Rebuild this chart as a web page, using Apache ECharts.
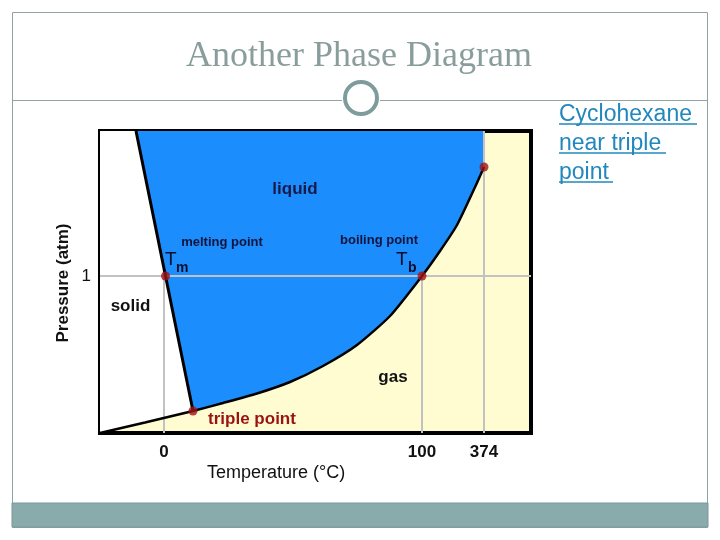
<!DOCTYPE html>
<html>
<head>
<meta charset="utf-8">
<script src="https://cdn.jsdelivr.net/npm/echarts@6/dist/echarts.min.js"></script>
<style>html,body{margin:0;padding:0;background:#fff}#c{width:720px;height:540px}</style>
</head>
<body>
<div id="c"></div>
<script>
// Schematic phase diagram (diagram units: x = temperature axis, y = pressure axis)
const xTickPos = [64, 322, 384];
const xTickLabels = ['0', '100', '374'];
const yTickPos = [157];
const yTickLabels = ['1'];

const triplePoint = [93, 22];
const meltingPoint = [65.5, 157];
const boilingPoint = [322, 157];
const criticalPoint = [384, 266];

const meltingCurve = [[93, 22], [65.5, 157], [36, 302]];
const sublimationCurve = [[0, 0], [45, 10.5], [93, 22]];
const vaporCurve = [[93, 22], [123, 30], [157, 39.5], [190, 51], [223, 67], [257, 88], [290, 117], [322, 157], [340, 182], [357, 208], [376, 248], [384, 266]];

const pressureLine = [[0, 157], [431, 157]];
const zeroLine = [[64, 0], [64, 157]];
const hundredLine = [[322, 0], [322, 157]];
const criticalLine = [[384, 0], [384, 302]];

const solidRegion = sublimationCurve.concat([[36, 302], [0, 302]]);
const liquidRegion = [[93, 22], [36, 302], [384, 302]].concat(vaporCurve.slice().reverse());

const chart = echarts.init(document.getElementById('c'), null, {renderer: 'canvas'});

function regionSeries(points, color) {
  return {
    type: 'custom', z: 1, silent: true, data: [[0, 0]],
    renderItem: function (params, api) {
      return {type: 'polygon', shape: {points: points.map(p => api.coord(p))}, style: {fill: color}};
    }
  };
}
function lineSeries(data, color, width, z, smooth) {
  return {type: 'line', data: data, symbol: 'none', z: z, silent: true, smooth: smooth || false,
    lineStyle: {color: color, width: width}};
}
const gridGray = '#c2c2c2';
const txt = (text, x, y, font, fill, align, valign, rot) => ({
  type: 'text', x: x, y: y, z: 100, rotation: rot || 0, silent: true,
  style: {text: text, font: font, fill: fill, textAlign: align || 'left', align: align || 'left',
    textVerticalAlign: valign || 'middle', verticalAlign: valign || 'middle'}
});
const linkColor = '#2187bd';

chart.setOption({
  animation: false,
  grid: {left: 100, top: 131, width: 431, height: 302, show: true, backgroundColor: '#fffcd2',
    borderColor: '#000', borderWidth: 4},
  xAxis: {type: 'value', min: 0, max: 431,
    axisLine: {show: false}, axisTick: {show: false}, splitLine: {show: false},
    axisLabel: {customValues: xTickPos, margin: 11, color: '#111', fontFamily: 'Liberation Sans, Arial',
      fontSize: 17, fontWeight: 'bold',
      formatter: v => xTickLabels[xTickPos.indexOf(v)] || ''}},
  yAxis: {type: 'value', min: 0, max: 302,
    axisLine: {show: false}, axisTick: {show: false}, splitLine: {show: false},
    axisLabel: {customValues: yTickPos, margin: 9, color: '#111', fontFamily: 'Liberation Sans, Arial',
      fontSize: 17, formatter: v => yTickLabels[yTickPos.indexOf(v)] || ''}},
  series: [
    regionSeries(solidRegion, '#ffffff'),
    regionSeries(liquidRegion, '#1b8dfc'),
    lineSeries(pressureLine, gridGray, 2, 2),
    lineSeries(zeroLine, gridGray, 2, 2),
    lineSeries(hundredLine, gridGray, 2, 2),
    lineSeries(criticalLine, gridGray, 2, 2),
    lineSeries(meltingCurve, '#000', 3, 3),
    lineSeries(sublimationCurve, '#000', 2.5, 3, 0.2),
    lineSeries(vaporCurve, '#000', 2.5, 3, 0.2),
    {type: 'scatter', z: 4, silent: true, symbolSize: 9, itemStyle: {color: '#a01414'},
      data: [triplePoint, meltingPoint, boilingPoint, criticalPoint]}
  ],
  graphic: [
    {type: 'rect', silent: true, shape: {x: 12.5, y: 12.5, width: 695, height: 515},
      style: {fill: 'none', stroke: '#8fa3a3', lineWidth: 1}},
    {type: 'rect', silent: true, shape: {x: 12, y: 503, width: 696, height: 24},
      style: {fill: '#8aabab', stroke: '#7a9797', lineWidth: 1}},
    {type: 'line', silent: true, shape: {x1: 12, y1: 100.5, x2: 342, y2: 100.5}, style: {stroke: '#8fa3a3', lineWidth: 1}},
    {type: 'line', silent: true, shape: {x1: 380, y1: 100.5, x2: 707, y2: 100.5}, style: {stroke: '#8fa3a3', lineWidth: 1}},
    {type: 'circle', silent: true, shape: {cx: 361, cy: 98, r: 16}, style: {fill: '#fff', stroke: '#7f9c9c', lineWidth: 4}},
    txt('Another Phase Diagram', 359, 57, '36px "Liberation Serif", serif', '#8a9d9d', 'center'),
    txt('Cyclohexane', 559, 115, '23px "Liberation Sans", Arial', linkColor),
    txt('near triple', 559, 144, '23px "Liberation Sans", Arial', linkColor),
    txt('point', 559, 173, '23px "Liberation Sans", Arial', linkColor),
    {type: 'line', silent: true, shape: {x1: 559, y1: 124, x2: 697, y2: 124}, style: {stroke: linkColor, lineWidth: 1.5}},
    {type: 'line', silent: true, shape: {x1: 559, y1: 153, x2: 666, y2: 153}, style: {stroke: linkColor, lineWidth: 1.5}},
    {type: 'line', silent: true, shape: {x1: 559, y1: 182, x2: 613, y2: 182}, style: {stroke: linkColor, lineWidth: 1.5}},
    txt('liquid', 295, 189, 'bold 17px "Liberation Sans", Arial', '#1a1a48', 'center'),
    txt('melting point', 222, 242, 'bold 13px "Liberation Sans", Arial', '#14143c', 'center'),
    txt('boiling point', 379, 240, 'bold 13px "Liberation Sans", Arial', '#14143c', 'center'),
    txt('T', 165, 260, '19px "Liberation Sans", Arial', '#0d0d2a'),
    txt('m', 176, 268, 'bold 14px "Liberation Sans", Arial', '#0d0d2a'),
    txt('T', 396, 260, '19px "Liberation Sans", Arial', '#0d0d2a'),
    txt('b', 408, 268, 'bold 14px "Liberation Sans", Arial', '#0d0d2a'),
    txt('solid', 130.5, 306, 'bold 17px "Liberation Sans", Arial', '#111', 'center'),
    txt('gas', 393, 377, 'bold 17px "Liberation Sans", Arial', '#111', 'center'),
    txt('triple point', 252, 419, 'bold 17px "Liberation Sans", Arial', '#9b1212', 'center'),
    txt('Temperature (°C)', 207, 473, '18px "Liberation Sans", Arial', '#111'),
    txt('Pressure (atm)', 63, 283, 'bold 17px "Liberation Sans", Arial', '#111', 'center', 'middle', Math.PI / 2)
  ]
});
</script>
</body>
</html>
